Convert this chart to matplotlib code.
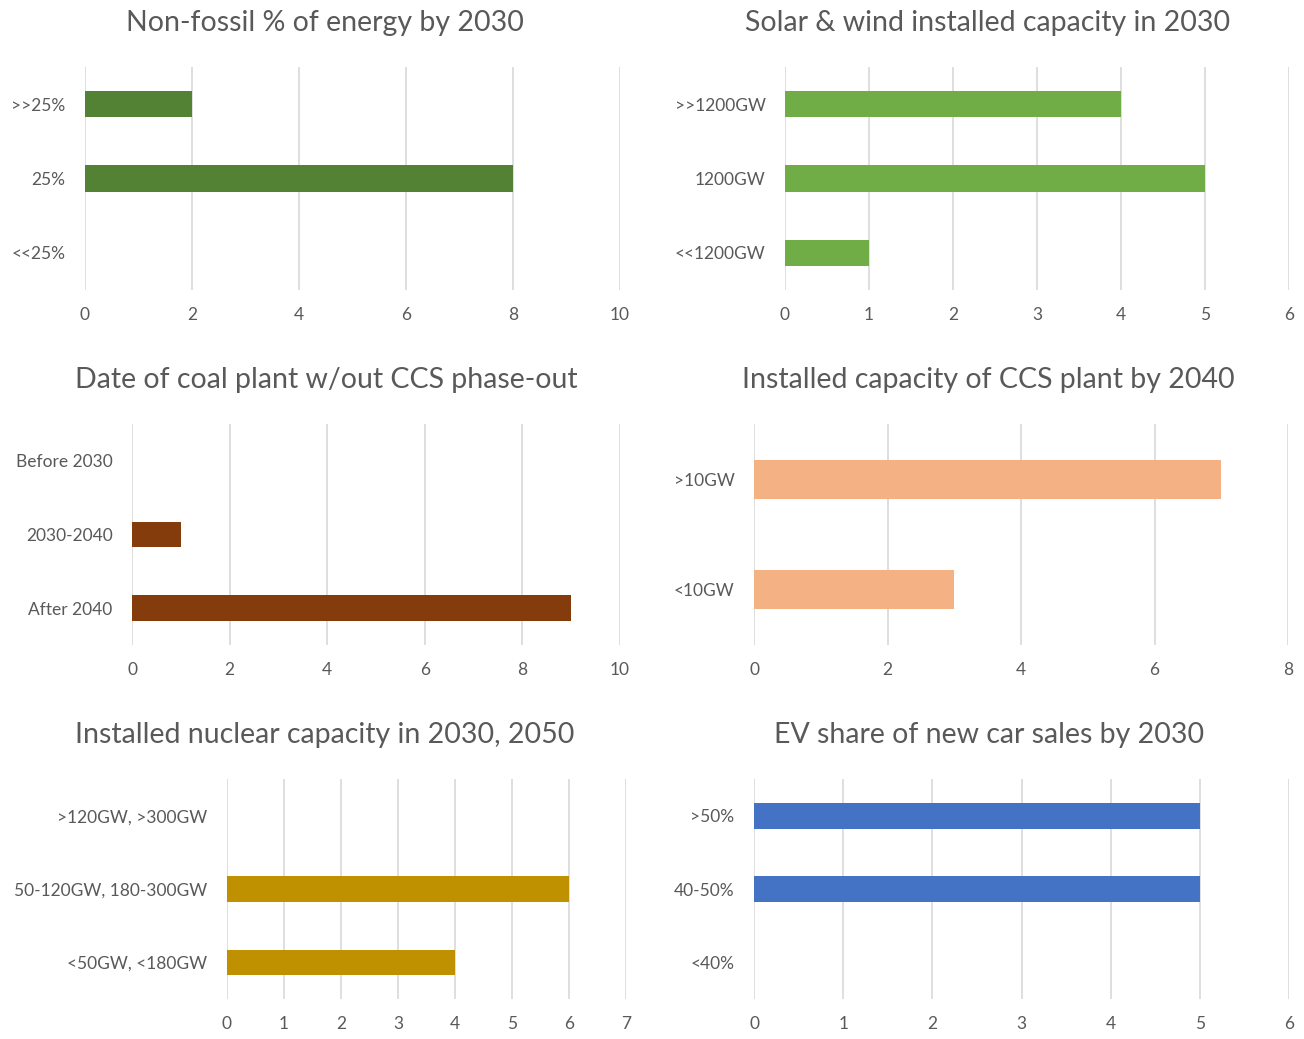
import matplotlib.pyplot as plt

plt.rcParams['font.family'] = ['Lato', 'DejaVu Sans']

W, H = 1304, 1039

# data (categories listed top to bottom)
fossil_cats = ['>>25%', '25%', '<<25%']
fossil_vals = [2, 8, 0]

solar_cats = ['>>1200GW', '1200GW', '<<1200GW']
solar_vals = [4, 5, 1]

coal_cats = ['Before 2030', '2030-2040', 'After 2040']
coal_vals = [0, 1, 9]

ccs_cats = ['>10GW', '<10GW']
ccs_vals = [7, 3]

nuclear_cats = ['>120GW, >300GW', '50-120GW, 180-300GW', '<50GW, <180GW']
nuclear_vals = [0, 6, 4]

ev_cats = ['>50%', '40-50%', '<40%']
ev_vals = [5, 5, 0]

grey = '#595959'

# title, cats, vals, colour, xmax, xstep, pixel box (left, right, top, bottom), title centre
panels = [
    ('Non-fossil % of energy by 2030', fossil_cats, fossil_vals, '#548235', 10, 2,
     (85, 620, 67, 290), (325, 23)),
    ('Solar & wind installed capacity in 2030', solar_cats, solar_vals, '#70AD47', 6, 1,
     (785, 1289, 67, 290), (988, 23)),
    ('Date of coal plant w/out CCS phase-out', coal_cats, coal_vals, '#843C0C', 10, 2,
     (132, 620, 424, 645), (326, 380)),
    ('Installed capacity of CCS plant by 2040', ccs_cats, ccs_vals, '#F4B183', 8, 2,
     (754, 1288, 424, 645), (988, 380)),
    ('Installed nuclear capacity in 2030, 2050', nuclear_cats, nuclear_vals, '#BF9000', 7, 1,
     (227, 626, 779, 999), (325, 735)),
    ('EV share of new car sales by 2030', ev_cats, ev_vals, '#4472C4', 6, 1,
     (754, 1289, 779, 999), (989, 735)),
]

fig = plt.figure(figsize=(W / 100, H / 100), dpi=100)

for title, cats, vals, col, xmax, step, box, tpos in panels:
    l, r, t, b = box
    ax = fig.add_axes([l / W, 1 - b / H, (r - l) / W, (b - t) / H])
    ypos = list(range(len(cats)))
    ax.barh(ypos, vals, height=0.35, color=col, zorder=3)
    ax.set_xlim(0, xmax)
    ax.set_ylim(len(cats) - 0.5, -0.5)
    ax.set_xticks(range(0, xmax + 1, step))
    ax.set_yticks(ypos)
    ax.set_yticklabels(cats)
    ax.grid(axis='x', color='#D9D9D9', linewidth=1.2, zorder=0)
    for s in ax.spines.values():
        s.set_visible(False)
    ax.tick_params(length=0, colors=grey, labelsize=12.5)
    ax.tick_params(axis='x', pad=12.5)
    ax.tick_params(axis='y', pad=14)
    fig.text(tpos[0] / W, 1 - tpos[1] / H, title, ha='center', va='center',
             fontsize=20.5, color=grey)

fig.savefig('out.png', dpi=100, facecolor='white')
